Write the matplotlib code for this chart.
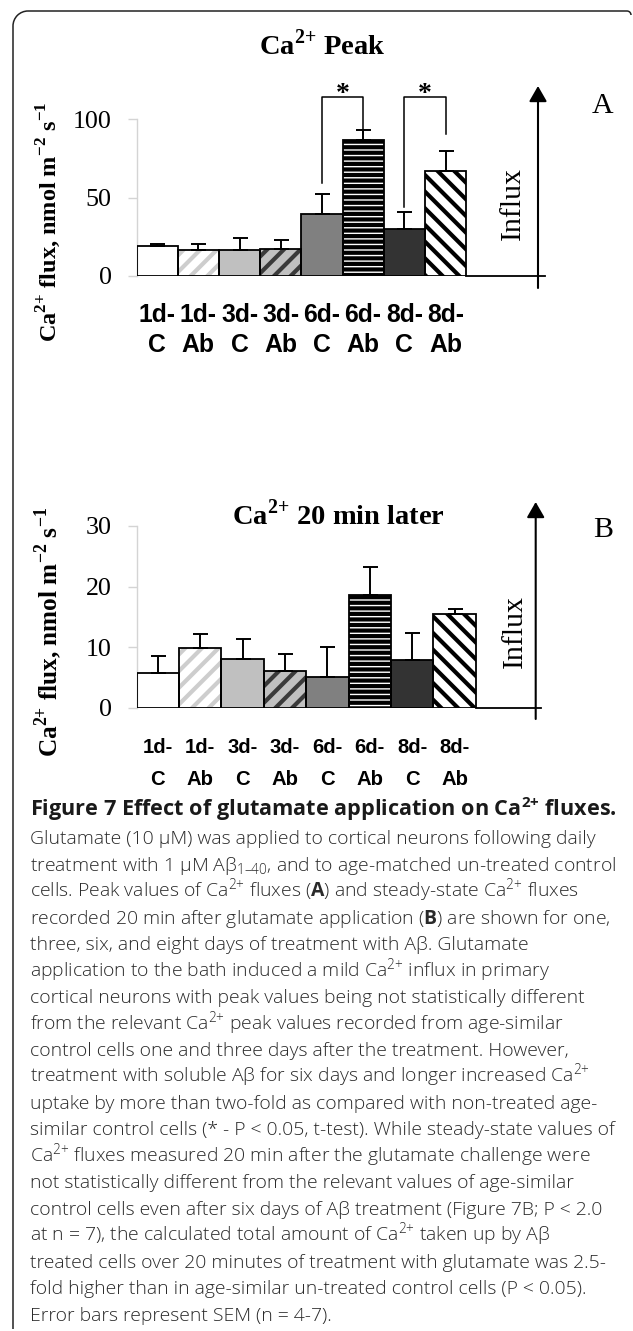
import numpy as np
import matplotlib
matplotlib.use("Agg")
import matplotlib.pyplot as plt
from matplotlib.transforms import blended_transform_factory
from matplotlib.patches import Arc

# ---------------- data ----------------
categories = ["1d-C", "1d-Ab", "3d-C", "3d-Ab", "6d-C", "6d-Ab", "8d-C", "8d-Ab"]
peak_values = [19.2, 16.6, 16.6, 17.2, 39.7, 86.6, 30.1, 66.7]
peak_errors = [1.2, 4.0, 7.6, 5.9, 12.7, 6.4, 10.4, 12.7]
later_values = [5.7, 9.9, 8.1, 6.15, 5.05, 18.6, 7.9, 15.5]
later_errors = [2.9, 2.35, 3.2, 2.75, 5.0, 4.6, 4.4, 0.9]
peak_ticks = [0, 50, 100]
later_ticks = [0, 10, 20, 30]
sig_pairs = [(4, 5), (6, 7)]
sig_left_bottom = [59.4, 43.7]
sig_right_bottom = [90.2, 90.2]
sig_top = 114.2

face_colors = ["white", "white", "#c0c0c0", "#c0c0c0", "#808080", "white", "#333333", "white"]
hatches = [None, "//", None, "//", None, "---", None, "\\\\"]
hatch_colors = [None, "#cdcdcd", None, "#3a3a3a", None, "black", None, "black"]

CA = r"Ca$^{\mathregular{2{+}}}$"
caption_title = "Figure 7 Effect of glutamate application on " + CA + " fluxes."
caption_lines = [
    "Glutamate (10 μM) was applied to cortical neurons following daily",
    r"treatment with 1 μM Aβ$_{\mathregular{1–40}}$, and to age-matched un-treated control",
    "cells. Peak values of " + CA + r" fluxes ($\mathbf{A}$) and steady-state " + CA + " fluxes",
    r"recorded 20 min after glutamate application ($\mathbf{B}$) are shown for one,",
    "three, six, and eight days of treatment with Aβ. Glutamate",
    "application to the bath induced a mild " + CA + " influx in primary",
    "cortical neurons with peak values being not statistically different",
    "from the relevant " + CA + " peak values recorded from age-similar",
    "control cells one and three days after the treatment. However,",
    "treatment with soluble Aβ for six days and longer increased " + CA,
    "uptake by more than two-fold as compared with non-treated age-",
    "similar control cells (* - P < 0.05, t-test). While steady-state values of",
    CA + " fluxes measured 20 min after the glutamate challenge were",
    "not statistically different from the relevant values of age-similar",
    "control cells even after six days of Aβ treatment (Figure 7B; P < 2.0",
    "at n = 7), the calculated total amount of " + CA + " taken up by Aβ",
    "treated cells over 20 minutes of treatment with glutamate was 2.5-",
    "fold higher than in age-similar un-treated control cells (P < 0.05).",
    "Error bars represent SEM (n = 4-7).",
]

# ---------------- style ----------------
plt.rcParams["font.family"] = ["Liberation Serif", "DejaVu Serif"]
plt.rcParams["mathtext.fontset"] = "custom"
plt.rcParams["mathtext.rm"] = "Open Sans"
plt.rcParams["mathtext.bf"] = "Open Sans:bold"
plt.rcParams["hatch.linewidth"] = 3.0

W, H = 633, 1331
fig = plt.figure(figsize=(W / 100, H / 100), dpi=100)
fig.patch.set_facecolor("white")

bg = fig.add_axes([0, 0, 1, 1], zorder=0)
bg.set_xlim(0, W)
bg.set_ylim(H, 0)
bg.axis("off")

# panel border
bg.plot([13, 13], [1329, 26], color="#222222", lw=1.1, solid_capstyle="butt")
bg.plot([28, 627], [11, 11], color="#222222", lw=1.1, solid_capstyle="butt")
bg.add_patch(Arc((28, 26), 30, 30, theta1=180, theta2=270, color="#222222", lw=1.1))
bg.add_patch(Arc((627, 15), 8, 8, theta1=270, theta2=360, color="#222222", lw=1.1))


def px_axes(left, right, top, bottom):
    return fig.add_axes([left / W, 1 - bottom / H, (right - left) / W, (bottom - top) / H], zorder=1)


def draw_panel(ax, values, errors, ticks, bar_px, xlab_size, xlab_rows):
    n = len(values)
    x = np.arange(n) + 0.5
    left_px = ax.get_position().x0 * W
    right_px = ax.get_position().x1 * W
    xmax = (right_px - left_px) / bar_px
    for xi, v, fc, h, hc in zip(x, values, face_colors, hatches, hatch_colors):
        if h:
            ax.bar(xi, v, width=1.0, color=fc, edgecolor=hc, hatch=h, linewidth=0, zorder=2)
        else:
            ax.bar(xi, v, width=1.0, color=fc, linewidth=0, zorder=2)
        ax.bar(xi, v, width=1.0, fill=False, edgecolor="black", linewidth=1.3, zorder=3)
    ax.errorbar(x, values, yerr=[np.zeros(n), errors], fmt="none", ecolor="black",
                elinewidth=1.4, capsize=5.4, capthick=1.4, zorder=4)
    ax.plot([n, xmax], [0, 0], color="black", lw=1.3, clip_on=False, zorder=3)
    ax.set_xlim(0, xmax)
    ax.set_ylim(ticks[0], ticks[-1])
    ax.set_yticks(ticks)
    ax.set_yticklabels([str(t) for t in ticks])
    for s in ["top", "right", "bottom"]:
        ax.spines[s].set_visible(False)
    ax.spines["left"].set_color("#d4d4d4")
    ax.spines["left"].set_linewidth(1.0)
    ax.tick_params(axis="y", length=6.8, width=1.0, color="#d4d4d4", pad=11,
                   labelsize=18.7, labelcolor="black")
    ax.tick_params(axis="x", length=0, labelbottom=False)
    ax.set_facecolor("none")
    tr = blended_transform_factory(ax.transData, bg.transData)
    for xi, cat in zip(x, categories):
        day, grp = cat.split("-")
        ax.text(xi, xlab_rows[0], day + "-", transform=tr, ha="center", va="baseline",
                fontsize=xlab_size, fontweight="bold", family="Liberation Sans", clip_on=False)
        ax.text(xi, xlab_rows[1], grp, transform=tr, ha="center", va="baseline",
                fontsize=xlab_size, fontweight="bold", family="Liberation Sans", clip_on=False)
    return x


# ---------------- panel A ----------------
axA = px_axes(136.5, 545, 119, 276)
xA = draw_panel(axA, peak_values, peak_errors, peak_ticks, 41.2, 17.8, (321.5, 351.7))
for (i, j), lb, rb in zip(sig_pairs, sig_left_bottom, sig_right_bottom):
    x0, x1 = xA[i], xA[j]
    axA.plot([x0, x0, x1, x1], [lb, sig_top, sig_top, rb], color="black", lw=1.1,
             clip_on=False, zorder=5)
    axA.annotate("*", xy=((x0 + x1) / 2, sig_top), xytext=(0, -3), textcoords="offset points",
                 ha="center", va="baseline", fontsize=20, fontweight="bold", annotation_clip=False)

# ---------------- panel B ----------------
axB = px_axes(136.5, 541, 526, 708)
draw_panel(axB, later_values, later_errors, later_ticks, 42.4, 14.6, (753, 785))

# ---------------- decorations (pixel coords) ----------------
arrow_kw = dict(arrowstyle="-|>,head_length=0.47,head_width=0.27", color="black", lw=1.5,
                shrinkA=0, shrinkB=0, mutation_scale=20)
bg.annotate("", xy=(538, 86), xytext=(538, 288), arrowprops=arrow_kw)
bg.annotate("", xy=(535.7, 502), xytext=(535.7, 719), arrowprops=arrow_kw)

bg.text(513, 203, "Influx", rotation=90, ha="center", va="center", fontsize=21.5)
bg.text(515, 632, "Influx", rotation=90, ha="center", va="center", fontsize=21.5)
bg.text(603, 113.3, "A", ha="center", va="baseline", fontsize=21.5)
bg.text(603, 536.7, "B", ha="center", va="baseline", fontsize=21.5)

bg.text(322.5, 54.3, CA + " Peak", ha="center", va="baseline",
        fontsize=20.5, fontweight="bold")
bg.text(338, 525, CA + " 20 min later", ha="center", va="baseline",
        fontsize=20.5, fontweight="bold")

ylab = CA + r" flux, nmol m$^{\mathregular{-2}}$ s$^{\mathregular{-1}}$"
bg.text(49, 221.5, ylab, rotation=90, ha="center", va="center", fontsize=17.5, fontweight="bold")
bg.text(49, 631.5, ylab, rotation=90, ha="center", va="center", fontsize=18.2, fontweight="bold")

# ---------------- caption ----------------
renderer = fig.canvas.get_renderer()
probe = bg.text(30, 0, caption_lines[11], fontsize=10, family="Open Sans", fontweight="light")
w_probe = probe.get_window_extent(renderer).width
probe.remove()
body_fs = 10 * 585 / w_probe
probe = bg.text(30, 0, caption_title, fontsize=10, family="Open Sans", fontweight="bold")
w_probe = probe.get_window_extent(renderer).width
probe.remove()
title_fs = 10 * 589 / w_probe

bg.text(30, 816, caption_title, fontsize=title_fs, family="Open Sans", fontweight="bold",
        color="#1a1a1a", va="baseline")
y0, dy = 844.5, 26.45
for k, line in enumerate(caption_lines):
    bg.text(30, y0 + k * dy, line, fontsize=body_fs, family="Open Sans", fontweight="light",
            color="#2a2a2a", va="baseline")

fig.savefig("out.png", dpi=100, facecolor="white")
